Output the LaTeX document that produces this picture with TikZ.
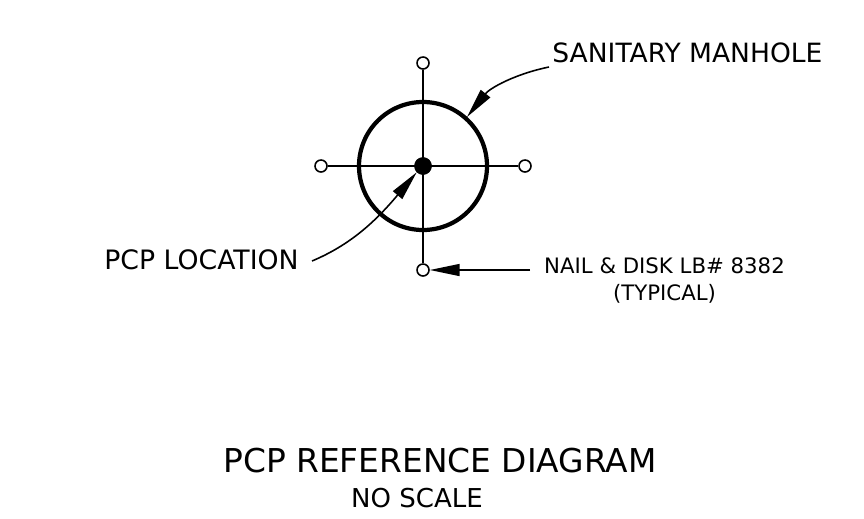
\documentclass[tikz,border=0pt]{standalone}
\usepackage{fontspec}
\setmainfont{DejaVu Sans}
\usetikzlibrary{arrows.meta,positioning,calc}

\begin{document}
\begin{tikzpicture}[
  x=0.02cm, y=-0.02cm,
  disk/.style={draw, circle, inner sep=0pt, minimum size=12*0.02cm, line width=0.9pt, fill=white},
  label/.style={inner sep=0pt, align=center, text=black},
  leader/.style={line width=0.9pt, -{Stealth[inset=0pt, length=17pt, width=6.8pt]}},
  axis/.style={line width=0.9pt}
]
  \useasboundingbox (0,0) rectangle (864,518);

  % manhole and centre point
  \coordinate (ctr) at (423,166);
  \draw[line width=2.4pt] (ctr) circle (64);
  \coordinate (rim) at (467,117);

  % nails
  \node[disk] (top)    at (423,63)  {};
  \node[disk] (left)   at (321,166) {};
  \node[disk] (right)  at (525,166) {};
  \node[disk] (bottom) at (423,270) {};
  \draw[axis] (top) -- (bottom);
  \draw[axis] (left) -- (right);
  \node[draw, circle, fill=black, inner sep=0pt, minimum size=17*0.02cm] (pcp) at (ctr) {};

  % labels
  \node[label, font=\fontsize{15.1}{18}\selectfont, anchor=west] (mh)   at (552,53)  {SANITARY MANHOLE};
  \node[label, font=\fontsize{15.2}{18}\selectfont, anchor=west] (loc)  at (104,260) {PCP LOCATION};
  \node[label, font=\fontsize{12.1}{15.5}\selectfont, anchor=north] (nail) at (664.5,257) {NAIL \& DISK LB\# 8382\\(TYPICAL)};
  \node[label, font=\fontsize{18.7}{22}\selectfont] (title) at (440,461) {PCP REFERENCE DIAGRAM};
  \node[label, font=\fontsize{14.8}{18}\selectfont] (scale) at (417,498) {NO SCALE};

  % leaders
  \draw[leader] (549,67) .. controls (515,74) and (490,88) .. (rim);
  \draw[leader] (312,261) .. controls (350,245) and (375,222) .. (pcp.south west);
  \draw[leader] (530,270) -- (bottom);
\end{tikzpicture}
\end{document}
